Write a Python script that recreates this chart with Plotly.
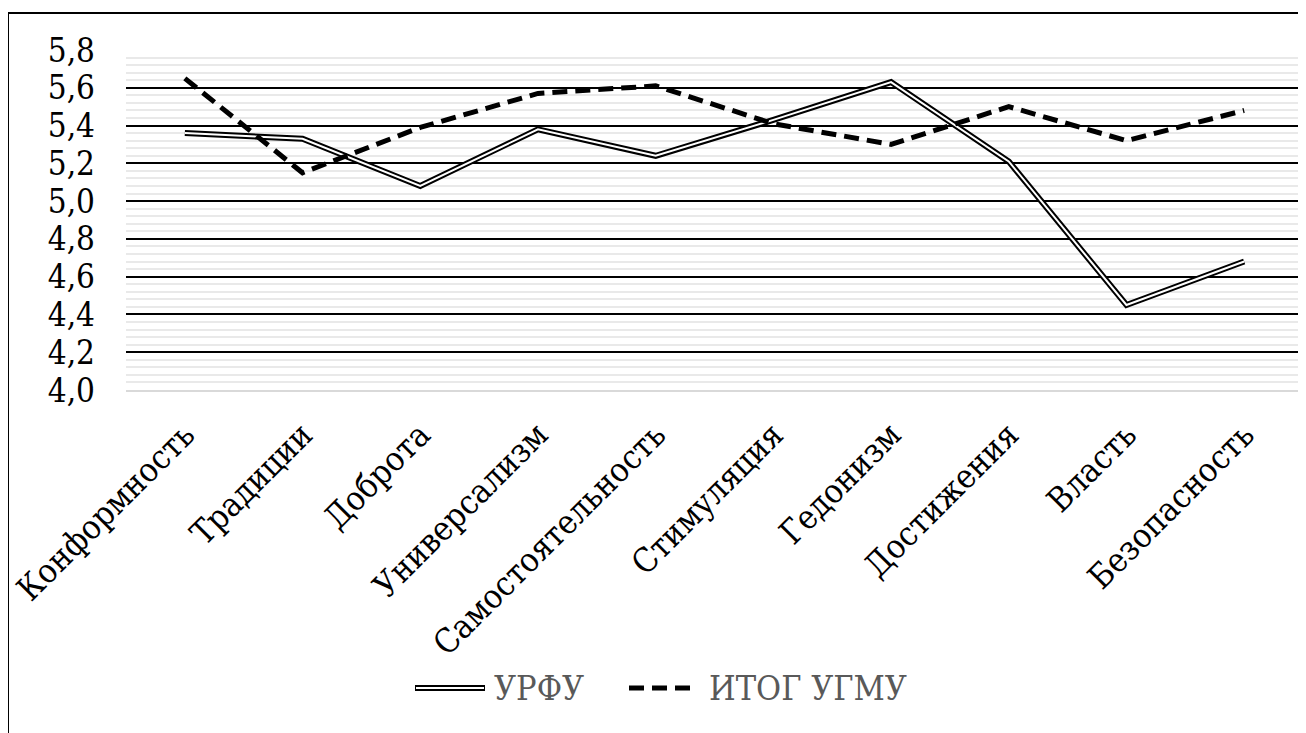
import plotly.graph_objects as go

categories = ["Конформность", "Традиции", "Доброта", "Универсализм", "Самостоятельность",
              "Стимуляция", "Гедонизм", "Достижения", "Власть", "Безопасность"]
urfu = [5.36, 5.33, 5.08, 5.38, 5.24, 5.43, 5.63, 5.21, 4.45, 4.68]
itog = [5.65, 5.15, 5.39, 5.57, 5.61, 5.41, 5.30, 5.50, 5.32, 5.48]
series_names = ["УРФУ", "ИТОГ УГМУ"]
y_ticks = [4.0, 4.2, 4.4, 4.6, 4.8, 5.0, 5.2, 5.4, 5.6, 5.8]

FONT = "DejaVu Serif Condensed, DejaVu Serif, serif"
OFF = 8  # page body margin
W, H = 1306 - OFF, 733 - OFF
L, T = 126 - OFF, 50 - OFF
R = W - (1303 - OFF)
B = H - (390 - OFF)
pw, ph = W - L - R, H - T - B

def px(x):
    return (x - OFF - L) / pw

def py(y):
    return (H - B - (y - OFF)) / ph

fig = go.Figure()
fig.add_trace(go.Scatter(x=categories, y=urfu, mode="lines", name=series_names[0],
                         line=dict(color="black", width=6), showlegend=False))
fig.add_trace(go.Scatter(x=categories, y=urfu, mode="lines", name=series_names[0],
                         line=dict(color="white", width=2), showlegend=False, hoverinfo="skip"))
fig.add_trace(go.Scatter(x=categories, y=itog, mode="lines", name=series_names[1],
                         line=dict(color="black", width=5, dash="15px,8px"), showlegend=False))
fig.add_trace(go.Scatter(x=categories, y=urfu, mode="lines", yaxis="y2",
                         line=dict(width=0), opacity=0, showlegend=False, hoverinfo="skip"))

fig.update_layout(
    width=W, height=H,
    margin=dict(l=L, r=R, t=T, b=B, autoexpand=False),
    paper_bgcolor="white", plot_bgcolor="white",
    separators=", ",
    font=dict(family=FONT, size=33, color="black"),
    xaxis=dict(range=[-0.5, len(categories) - 0.5], tickangle=-45, showgrid=False,
               showline=True, linecolor="#d9d9d9", linewidth=1.5, ticks="",
               tickfont=dict(family=FONT, size=33.5, color="black"),
               ticklabelstandoff=10, zeroline=False, automargin=False),
    yaxis=dict(range=[4.0, 5.8], tickvals=y_ticks, tickformat=".1f", showgrid=False,
               zeroline=False, showline=False, ticks="",
               tickfont=dict(family=FONT, size=33, color="black"),
               ticklabelstandoff=30, automargin=False),
    yaxis2=dict(range=[4.0, 5.8], overlaying="y", tickvals=y_ticks[1:], showticklabels=False,
                showgrid=True, gridcolor="black", gridwidth=1.6, zeroline=False, ticks="",
                minor=dict(dtick=0.04, tick0=4.0, showgrid=True, gridcolor="#e9e9e9", gridwidth=1.6)),
)

shapes = []
shapes.append(dict(type="rect", xref="paper", yref="paper",
                   x0=px(8), y0=py(750), x1=px(1320), y1=py(13),
                   line=dict(color="black", width=2), fillcolor="rgba(0,0,0,0)", layer="above"))
ly = py(688)
shapes.append(dict(type="line", xref="paper", yref="paper", x0=px(415), x1=px(485), y0=ly, y1=ly,
                   line=dict(color="black", width=6)))
shapes.append(dict(type="line", xref="paper", yref="paper", x0=px(416), x1=px(484), y0=ly, y1=ly,
                   line=dict(color="white", width=2)))
shapes.append(dict(type="line", xref="paper", yref="paper", x0=px(629), x1=px(696), y0=ly, y1=ly,
                   line=dict(color="black", width=5, dash="15px,8px")))
fig.update_layout(shapes=shapes)

fig.add_annotation(xref="paper", yref="paper", x=px(492), y=ly, text=series_names[0],
                   showarrow=False, xanchor="left", yanchor="middle",
                   font=dict(family=FONT, size=34, color="#595959"))
fig.add_annotation(xref="paper", yref="paper", x=px(707), y=ly, text=series_names[1],
                   showarrow=False, xanchor="left", yanchor="middle",
                   font=dict(family=FONT, size=34, color="#595959"))

fig.write_html("out.html")
